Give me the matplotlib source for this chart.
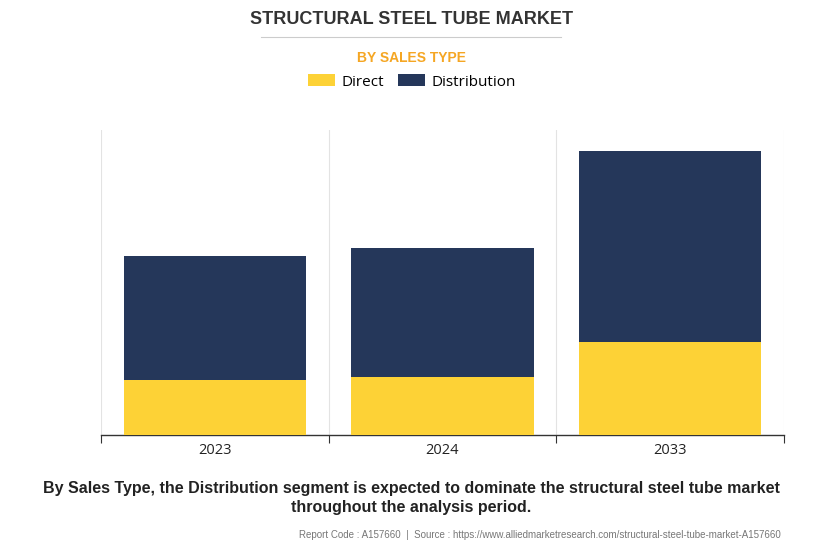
import matplotlib.pyplot as plt
import numpy as np
from matplotlib.lines import Line2D
from matplotlib.patches import Patch

years = ["2023", "2024", "2033"]
direct = [55, 58, 93]
distribution = [124, 129, 191]
segments = ["Direct", "Distribution"]

YELLOW = "#FDD236"
NAVY = "#25375A"

fig = plt.figure(figsize=(8.23, 5.57), dpi=100)
fig.patch.set_facecolor("white")
ax = fig.add_axes([101 / 823, 1 - 435 / 557, 683 / 823, 305 / 557])

x = np.arange(len(years))
ax.bar(x, direct, width=0.8, color=YELLOW, zorder=3)
ax.bar(x, distribution, width=0.8, bottom=direct, color=NAVY, zorder=3)

ax.set_xlim(-0.5, len(years) - 0.5)
ax.set_ylim(0, 305)
ax.set_yticks([])
for s in ["top", "right", "left"]:
    ax.spines[s].set_visible(False)
ax.spines["bottom"].set_color("#333333")
ax.spines["bottom"].set_linewidth(1)

# boundaries get the ticks and grid, centres get the labels
bounds = np.arange(len(years) + 1) - 0.5
ax.set_xticks(bounds)
ax.set_xticklabels([])
ax.tick_params(axis="x", which="major", length=6, color="#333333")
ax.set_xticks(x, minor=True)
ax.set_xticklabels(years, minor=True, fontsize=10.5, color="#222222", family="Open Sans")
ax.tick_params(axis="x", which="minor", length=0, pad=6)
for b in bounds:
    ax.axvline(b, color="#e3e3e3", linewidth=0.8, zorder=1)

fig.text(0.5, 1 - 20 / 557, "STRUCTURAL STEEL TUBE MARKET", ha="center", va="center",
         fontsize=13, fontweight="heavy", color="#333333", family="Liberation Sans")
fig.add_artist(Line2D([261 / 823, 561 / 823], [1 - 37 / 557] * 2, color="#cccccc", linewidth=0.8))
fig.text(0.5, 1 - 58 / 557, "BY SALES TYPE", ha="center", va="center",
         fontsize=10, fontweight="bold", color="#F5A623", family="Liberation Sans")

handles = [Patch(facecolor=YELLOW, edgecolor="none"), Patch(facecolor=NAVY, edgecolor="none")]
fig.legend(handles, segments, loc="center", bbox_to_anchor=(0.5, 1 - 82 / 557), ncol=2,
           frameon=False, prop={"family": "Open Sans", "size": 11}, handlelength=1.8,
           handleheight=0.8, handletextpad=0.4, columnspacing=0.9)

fig.text(0.5, 1 - 498 / 557,
         "By Sales Type, the Distribution segment is expected to dominate the structural steel tube market\nthroughout the analysis period.",
         ha="center", va="center", fontsize=11.5, fontweight="bold", color="#222222",
         family="Liberation Sans", linespacing=1.3)
fig.text(781 / 823, 1 - 535 / 557,
         "Report Code : A157660  |  Source : https://www.alliedmarketresearch.com/structural-steel-tube-market-A157660",
         ha="right", va="center", fontsize=7, color="#777777", family="Liberation Sans")

fig.savefig("out.png", dpi=100, facecolor="white")
